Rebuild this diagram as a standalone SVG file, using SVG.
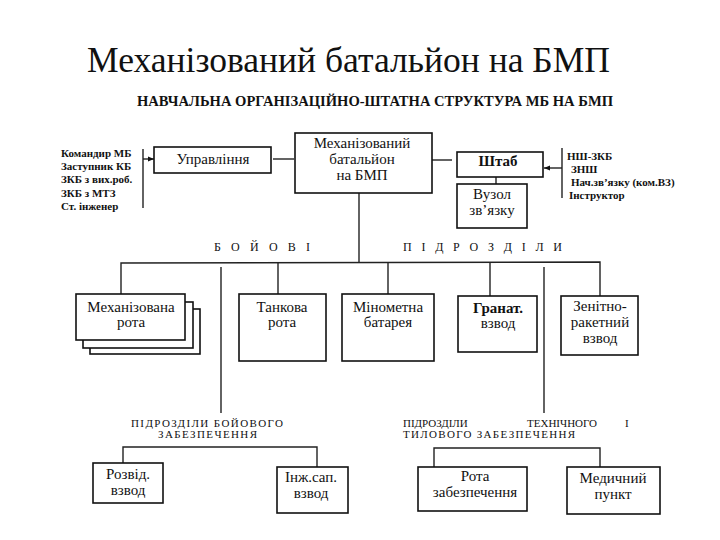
<svg xmlns="http://www.w3.org/2000/svg" width="720" height="540" viewBox="0 0 720 540">
<defs>
<style>
text{font-family:'Liberation Serif','Times New Roman',serif;fill:#111}
.n{font-size:15px;text-anchor:middle}
.b{font-weight:bold}
.l{font-size:11px;font-weight:bold}
.s{font-size:11px}
.box{fill:#fff;stroke:#111;stroke-width:1.6}
.c{fill:none;stroke:#222;stroke-width:1.4}
</style>
<marker id="ah" viewBox="0 0 10 10" refX="10" refY="5" markerWidth="6" markerHeight="6" orient="auto" markerUnits="userSpaceOnUse">
<path d="M0,1 L10,5 L0,9 Z" fill="#111"/>
</marker>
</defs>
<rect width="720" height="540" fill="#fff"/>

<text x="87" y="72" font-size="36" textLength="523" lengthAdjust="spacingAndGlyphs">Механізований батальйон на БМП</text>
<text class="b" x="137" y="106" font-size="14" textLength="476" lengthAdjust="spacingAndGlyphs">НАВЧАЛЬНА ОРГАНІЗАЦІЙНО-ШТАТНА СТРУКТУРА МБ НА БМП</text>

<g id="connectors">
<line class="c" x1="143" y1="149" x2="143" y2="208"/>
<line class="c" x1="143" y1="159" x2="154" y2="159" marker-end="url(#ah)"/>
<line class="c" x1="273" y1="159" x2="294" y2="159"/>
<line class="c" x1="432" y1="160" x2="452" y2="160"/>
<line class="c" x1="562" y1="148" x2="562" y2="198"/>
<line class="c" x1="562" y1="168" x2="544" y2="168" marker-end="url(#ah)"/>
<line class="c" x1="496" y1="177" x2="496" y2="184"/>
<line class="c" x1="359" y1="193" x2="359" y2="262"/>
<polyline class="c" points="121,295 121,263 600,262 600,296"/>
<line class="c" x1="278" y1="262" x2="278" y2="294"/>
<line class="c" x1="388" y1="262" x2="388" y2="294"/>
<line class="c" x1="490" y1="262" x2="490" y2="296"/>
<line class="c" x1="221" y1="267" x2="221" y2="413"/>
<line class="c" x1="544" y1="267" x2="544" y2="413"/>
<polyline class="c" points="123,463 123,447 317,447 317,467"/>
<polyline class="c" points="434,467 434,448 600,448 600,467"/>
</g>

<g id="left-list">
<text class="l" x="61" y="157">Командир МБ</text>
<text class="l" x="61" y="170">Заступник КБ</text>
<text class="l" x="61" y="183">ЗКБ з вих.роб.</text>
<text class="l" x="61" y="197">ЗКБ з МТЗ</text>
<text class="l" x="61" y="210">Ст. інженер</text>
</g>

<g id="right-list">
<text class="l" x="567" y="160">НШ-ЗКБ</text>
<text class="l" x="571" y="173">ЗНШ</text>
<text class="l" x="571" y="186">Нач.зв’язку (ком.ВЗ)</text>
<text class="l" x="569" y="199">Інструктор</text>
</g>

<g id="upravlinnia">
<rect class="box" x="154" y="147" width="117" height="26"/>
<text class="n" x="213" y="164">Управління</text>
</g>

<g id="battalion">
<rect class="box" x="295" y="133" width="137" height="60"/>
<text class="n" x="362" y="148">Механізований</text>
<text class="n" x="362" y="164">батальйон</text>
<text class="n" x="362" y="180">на БМП</text>
</g>

<g id="shtab">
<rect class="box" x="457" y="152" width="86" height="25"/>
<text class="n b" x="498" y="166">Штаб</text>
</g>

<g id="vuzol">
<rect class="box" x="457" y="184" width="70" height="44"/>
<text class="n" x="492" y="199">Вузол</text>
<text class="n" x="492" y="215">зв’язку</text>
</g>

<g id="bojovi-label">
<text x="214" y="251" font-size="12" textLength="96">Б О Й О В І</text>
<text x="403" y="251" font-size="12" textLength="159">П І Д Р О З Д І Л И</text>
</g>

<g id="mech-rota">
<rect class="box" x="90" y="309" width="110" height="45"/>
<rect class="box" x="83" y="302" width="110" height="46"/>
<rect class="box" x="76" y="294" width="109" height="46"/>
<text class="n" x="131" y="312">Механізована</text>
<text class="n" x="131" y="327">рота</text>
</g>

<g id="tank-rota">
<rect class="box" x="239" y="294" width="87" height="67"/>
<text class="n" x="282" y="312">Танкова</text>
<text class="n" x="282" y="327">рота</text>
</g>

<g id="minometna">
<rect class="box" x="342" y="294" width="92" height="67"/>
<text class="n" x="388" y="312">Мінометна</text>
<text class="n" x="388" y="327">батарея</text>
</g>

<g id="granat">
<rect class="box" x="458" y="296" width="79" height="56"/>
<text class="n b" x="498" y="313">Гранат.</text>
<text class="n" x="498" y="328">взвод</text>
</g>

<g id="zenit">
<rect class="box" x="561" y="296" width="77" height="59"/>
<text class="n" x="600" y="311">Зенітно-</text>
<text class="n" x="600" y="327">ракетний</text>
<text class="n" x="600" y="343">взвод</text>
</g>

<g id="bz-label">
<text class="s" x="131" y="427" textLength="152">ПІДРОЗДІЛИ  БОЙОВОГО</text>
<text class="s" x="158" y="438" textLength="99">ЗАБЕЗПЕЧЕННЯ</text>
</g>

<g id="tz-label">
<text class="s" x="403" y="427">ПІДРОЗДІЛИ</text>
<text class="s" x="527" y="427">ТЕХНІЧНОГО</text>
<text class="s" x="625" y="427">І</text>
<text class="s" x="403" y="438" textLength="172">ТИЛОВОГО ЗАБЕЗПЕЧЕННЯ</text>
</g>

<g id="rozvid">
<rect class="box" x="93" y="463" width="70" height="40"/>
<text class="n" x="128" y="479">Розвід.</text>
<text class="n" x="128" y="495">взвод</text>
</g>

<g id="inzh">
<rect class="box" x="277" y="467" width="71" height="46"/>
<text class="n" x="311" y="482">Інж.сап.</text>
<text class="n" x="311" y="498">взвод</text>
</g>

<g id="rota-zab">
<rect class="box" x="418" y="467" width="109" height="44"/>
<text class="n" x="475" y="481">Рота</text>
<text class="n" x="475" y="497">забезпечення</text>
</g>

<g id="medpunkt">
<rect class="box" x="567" y="467" width="93" height="47"/>
<text class="n" x="613" y="483">Медичний</text>
<text class="n" x="613" y="499">пункт</text>
</g>
</svg>
